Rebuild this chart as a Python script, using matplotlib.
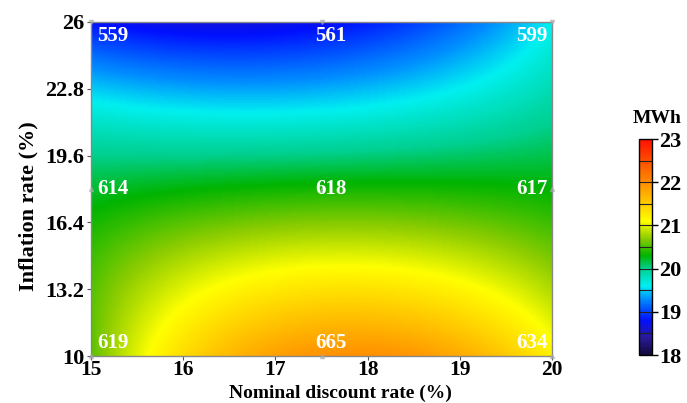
import numpy as np
import matplotlib
matplotlib.use("Agg")
import matplotlib.pyplot as plt
from matplotlib.colors import LinearSegmentedColormap, Normalize

# Data
discount_rate = [15, 17.5, 20]          # x (%)
inflation_rate = [10, 18, 26]           # y (%)
# energy (MWh) at grid points, rows = inflation, cols = discount
energy_mwh = [
    [20.55, 21.95, 21.2],  # inflation 10
    [20.2, 20.35, 20.3],   # inflation 18
    [18.8, 18.75, 19.6],   # inflation 26
]
point_labels = [
    ["619", "665", "634"],
    ["614", "618", "617"],
    ["559", "561", "599"],
]
xticks = [15, 16, 17, 18, 19, 20]
yticks = [10, 13.2, 16.4, 19.6, 22.8, 26]
cbar_ticks = [18, 19, 20, 21, 22, 23]

plt.rcParams['font.family'] = ['Liberation Serif', 'DejaVu Serif']
plt.rcParams['font.weight'] = 'bold'

cmap = LinearSegmentedColormap.from_list("c", [
    (0.00, "#120a3a"),
    (0.08, "#2a1a9a"),
    (0.16, "#0010ff"),
    (0.26, "#0090ff"),
    (0.32, "#00f0f0"),
    (0.40, "#00d090"),
    (0.46, "#00b400"),
    (0.54, "#8ccc00"),
    (0.62, "#ffff00"),
    (0.72, "#ffbf00"),
    (0.82, "#ff8000"),
    (1.00, "#ff1000"),
])

def lagrange(xs, x):
    xs = np.asarray(xs, float)
    L = []
    for i in range(len(xs)):
        li = np.ones_like(x)
        for j in range(len(xs)):
            if j != i:
                li = li * (x - xs[j]) / (xs[i] - xs[j])
        L.append(li)
    return np.array(L)

xg = np.linspace(discount_rate[0], discount_rate[-1], 300)
yg = np.linspace(inflation_rate[0], inflation_rate[-1], 300)
Lx = lagrange(discount_rate, xg)   # 3 x Nx
Ly = lagrange(inflation_rate, yg)  # 3 x Ny
Z = Ly.T @ np.array(energy_mwh) @ Lx  # Ny x Nx

fig = plt.figure(figsize=(6.87, 4.03), dpi=100)
ax = fig.add_axes([0.1325, 0.1166, 0.671, 0.829])
norm = Normalize(18, 23)
im = ax.imshow(Z, origin='lower', extent=[15, 20, 10, 26], aspect='auto',
               cmap=cmap, norm=norm, interpolation='bilinear')
ax.set_xlim(15, 20)
ax.set_ylim(10, 26)
ax.set_xticks(xticks)
ax.set_xticklabels([str(t) for t in xticks])
ax.set_yticks(yticks)
ax.set_yticklabels([str(t) for t in yticks])
ax.tick_params(labelsize=16, length=3, pad=2, color='#555555')
ax.tick_params(axis='x', pad=0, labelsize=15.5)
for lab in ax.get_xticklabels() + ax.get_yticklabels():
    lab.set_fontweight('bold')
for s in ax.spines.values():
    s.set_color('#888888')
    s.set_linewidth(1)
fig.text(0.495, 0.013, "Nominal discount rate (%)", fontsize=14,
         fontweight='bold', ha='center', va='baseline')
fig.text(0.041, 0.489, "Inflation rate (%)", fontsize=16, fontweight='bold',
         ha='center', va='center', rotation=90)

has = ['left', 'center', 'right']
vas = ['bottom', 'center', 'top']
offx = [0.07, 0.1, -0.05]
offy = [0.15, 0.0, -0.2]
for i, yv in enumerate(inflation_rate):
    for j, xv in enumerate(discount_rate):
        ax.text(xv + offx[j], yv + offy[i], point_labels[i][j], color='white',
                fontsize=15, fontweight='bold', ha=has[j], va=vas[i], zorder=5)
        ax.plot(xv, yv, marker='v' if i == 2 else '^', color='#aaaaaa',
                markersize=3, clip_on=False, zorder=4, alpha=0.6)

cax = fig.add_axes([0.930, 0.119, 0.019, 0.536])
cb = fig.colorbar(im, cax=cax, ticks=cbar_ticks)
cb.outline.set_color('black')
cb.outline.set_linewidth(1)
for v in np.arange(18.5, 23, 0.5):
    cax.axhline(v, color='#222222', lw=0.8)
cax.tick_params(labelsize=16, length=4, width=1, pad=1, direction='out')
for lab in cax.get_yticklabels():
    lab.set_fontweight('bold')
fig.text(0.957, 0.695, "MWh", fontsize=14, fontweight='bold', ha='center', va='baseline')

fig.savefig("out.png", dpi=100)
